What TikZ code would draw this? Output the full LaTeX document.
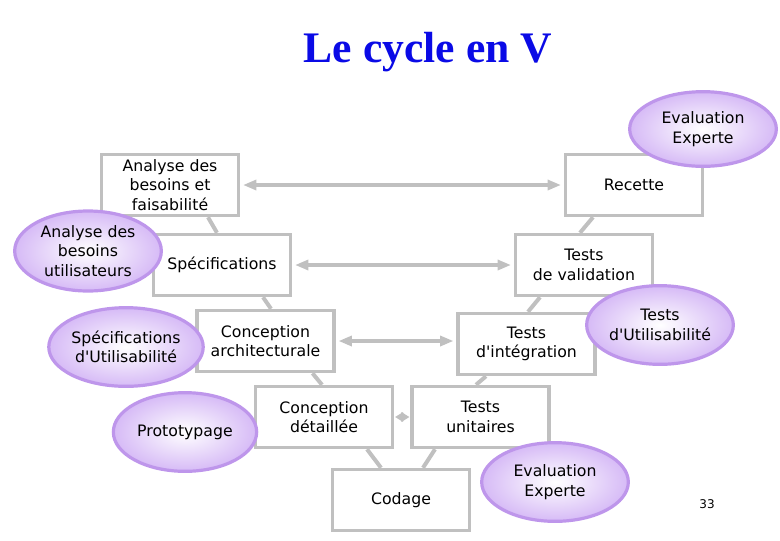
\documentclass[tikz,border=0pt]{standalone}
\usepackage{fontspec}
\setmainfont{DejaVu Sans}
\newfontfamily\titlefont{Liberation Serif}
\usetikzlibrary{arrows.meta,calc,shapes.geometric}
\definecolor{boxgray}{RGB}{192,192,192}
\definecolor{ellline}{RGB}{190,150,235}
\definecolor{ellfill}{RGB}{214,186,246}
\definecolor{titleblue}{RGB}{10,10,230}
\tikzset{
  phase/.style={draw=boxgray, line width=2.6pt, fill=white, minimum width=103pt,
    minimum height=45.75pt, align=center, inner sep=0pt,
    font=\fontsize{11.8}{14.6}\selectfont},
  usab/.style={ellipse, draw=ellline, line width=2.4pt, inner color=white,
    outer color=ellfill, minimum width=110pt, minimum height=59pt, align=center,
    inner sep=0pt, font=\fontsize{11.8}{14.6}\selectfont},
  link/.style={boxgray, line width=3pt},
  both/.style={boxgray, line width=2.4pt, shorten <=2pt, shorten >=2pt,
    {Triangle[length=10pt,width=7.5pt]}-{Triangle[length=10pt,width=7.5pt]}},
  bothsmall/.style={boxgray, line width=2.4pt, shorten <=0.5pt, shorten >=0.5pt,
    {Triangle[length=6pt,width=7pt]}-{Triangle[length=6pt,width=7pt]}}
}
\newcommand{\apos}{\textquotesingle}
\begin{document}
\begin{tikzpicture}[x=0.75pt,y=-0.75pt]
\useasboundingbox (0,0) rectangle (780,540);
\node (title) at (428,52) {\titlefont\bfseries\fontsize{32.7}{36}\selectfont\color{titleblue}Le cycle en V};
% left branch
\node[phase] (anal) at (170,185) {Analyse des\\besoins et\\faisabilité};
\node[phase] (spec) at (222,265) {Spécifications};
\node[phase] (concA) at (265.5,341) {Conception\\architecturale};
\node[phase] (concD) at (324,417) {Conception\\détaillée};
\node[phase] (codage) at (401,500) {Codage};
% right branch
\node[phase] (tu) at (480.5,417) {Tests\\unitaires};
\node[phase] (ti) at (526.5,344) {Tests\\d\apos intégration};
\node[phase] (tv) at (584,265) {Tests\\de validation};
\node[phase] (rec) at (634,185) {Recette};
% the V
\draw[link] ($(anal.south)+(38,0)$) -- ($(spec.north)+(-5,0)$);
\draw[link] ($(spec.south)+(41,0)$) -- ($(concA.north)+(5.5,0)$);
\draw[link] ($(concA.south)+(47,0)$) -- ($(concD.north)+(-2,0)$);
\draw[link] ($(concD.south)+(43,0)$) -- ($(codage.north)+(-20,0)$);
\draw[link] ($(codage.north)+(22,0)$) -- ($(tu.south)+(-45.5,0)$);
\draw[link] ($(tu.north)+(-4.5,0)$) -- ($(ti.south)+(-40.5,0)$);
\draw[link] ($(ti.north)+(1.5,0)$) -- ($(tv.south)+(-44,0)$);
\draw[link] ($(tv.north)+(-4,0)$) -- ($(rec.south)+(-41,0)$);
\draw[both] (anal.east) -- (rec.west);
\draw[both] (spec.east) -- (tv.west);
\draw[both] (concA.east) -- (concA.east -| ti.west);
\draw[bothsmall] (concD.east) -- (tu.west);
% usability
\node[usab, minimum height=56pt] (evtop) at (703,129) {Evaluation\\Experte};
\node[usab, minimum height=60pt] (ebu) at (88,251) {Analyse des\\besoins\\utilisateurs};
\node[usab] (esu) at (126,347) {Spécifications\\d\apos Utilisabilité};
\node[usab, minimum width=107.5pt] (proto) at (185,432) {Prototypage};
\node[usab] (etu) at (660,325) {Tests\\d\apos Utilisabilité};
\node[usab] (evbot) at (555,482) {Evaluation\\Experte};
\node[font=\fontsize{9}{10}\selectfont] (page) at (707,504) {33};
\end{tikzpicture}
\end{document}
